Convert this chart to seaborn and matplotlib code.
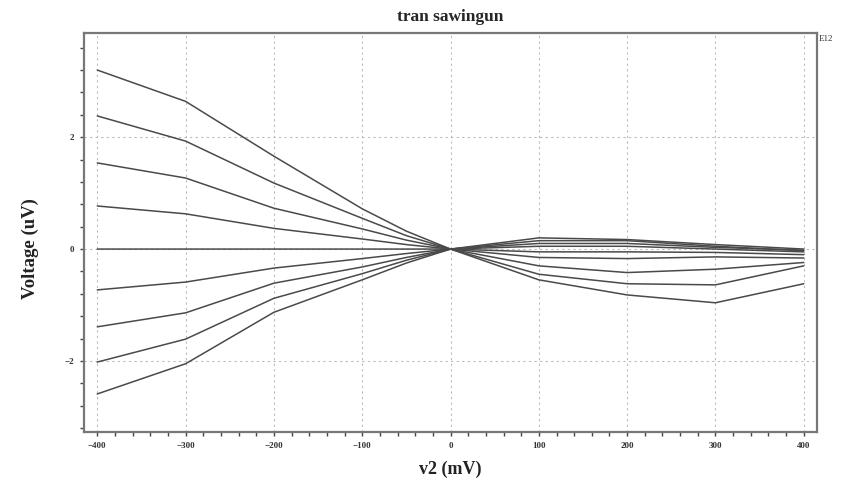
import numpy as np
import pandas as pd
import matplotlib
matplotlib.use("Agg")
import matplotlib.pyplot as plt
import seaborn as sns
from matplotlib.ticker import MultipleLocator

x_mv = [-400, -300, -200, -100, -50, 0, 100, 200, 300, 400]

c1 = [3.20, 2.64, 1.66, 0.72, 0.32, 0.0, -0.55, -0.82, -0.96, -0.62]
c2 = [2.38, 1.93, 1.18, 0.55, 0.24, 0.0, -0.45, -0.62, -0.64, -0.30]
c3 = [1.54, 1.27, 0.73, 0.36, 0.16, 0.0, -0.30, -0.42, -0.36, -0.24]
c4 = [0.77, 0.63, 0.37, 0.18, 0.08, 0.0, -0.15, -0.17, -0.14, -0.16]
c5 = [0.0, 0.0, 0.0, 0.0, 0.0, 0.0, -0.05, -0.05, -0.06, -0.10]
c6 = [-0.73, -0.59, -0.34, -0.17, -0.08, 0.0, 0.05, 0.05, 0.0, -0.05]
c7 = [-1.39, -1.14, -0.61, -0.32, -0.15, 0.0, 0.10, 0.10, 0.03, -0.02]
c8 = [-2.02, -1.61, -0.88, -0.44, -0.20, 0.0, 0.15, 0.15, 0.05, -0.03]
c9 = [-2.59, -2.05, -1.13, -0.55, -0.25, 0.0, 0.20, 0.17, 0.08, 0.0]

curves = {"c1": c1, "c2": c2, "c3": c3, "c4": c4, "c5": c5,
          "c6": c6, "c7": c7, "c8": c8, "c9": c9}

rows = []
for name, vals in curves.items():
    for xv, yv in zip(x_mv, vals):
        rows.append({"x": xv, "y": yv, "curve": name})
df = pd.DataFrame(rows)

sns.set_theme(style="white")
plt.rcParams['font.family'] = ['Liberation Serif', 'DejaVu Serif']

fig = plt.figure(figsize=(8.41, 4.80), dpi=100)
ax = fig.add_axes([0.0999, 0.10, 0.8716, 0.831])

sns.lineplot(data=df, x="x", y="y", hue="curve",
             palette=["#4a4a4a"] * 9, linewidth=1.1, legend=False,
             sort=False, ax=ax)

ax.set_xlim(-415, 415)
ax.set_ylim(-3.27, 3.86)

ax.xaxis.set_major_locator(MultipleLocator(100))
ax.xaxis.set_minor_locator(MultipleLocator(20))
ax.yaxis.set_major_locator(MultipleLocator(2))
ax.yaxis.set_minor_locator(MultipleLocator(0.4))

ax.grid(True, which="major", color="#bbbbbb", linestyle=(0, (2, 3)), linewidth=0.8)

ax.tick_params(axis="both", which="major", direction="out", length=3, width=1,
               color="#444444", labelsize=6.5, labelcolor="#333333", pad=4,
               left=True, bottom=True)
ax.tick_params(axis="both", which="minor", direction="out", length=3, width=1,
               color="#444444", left=True, bottom=True)
for lab in ax.get_xticklabels() + ax.get_yticklabels():
    lab.set_fontweight("bold")

for side in ["left", "bottom", "top", "right"]:
    ax.spines[side].set_color("#777777")
    ax.spines[side].set_linewidth(1.6)

ax.set_xlabel("v2 (mV)", fontsize=13, fontweight="bold", labelpad=8, color="#222222")
ax.set_ylabel("Voltage (uV)", fontsize=13.5, fontweight="bold", color="#222222")
ax.yaxis.set_label_coords(-0.061, 0.46)
ax.set_title("tran sawingun", fontsize=12.5, fontweight="bold", pad=9)

fig.text(0.974, 0.918, "E12", fontsize=6.5, ha="left", va="center", color="#333333")

fig.savefig("out.png", dpi=100)
